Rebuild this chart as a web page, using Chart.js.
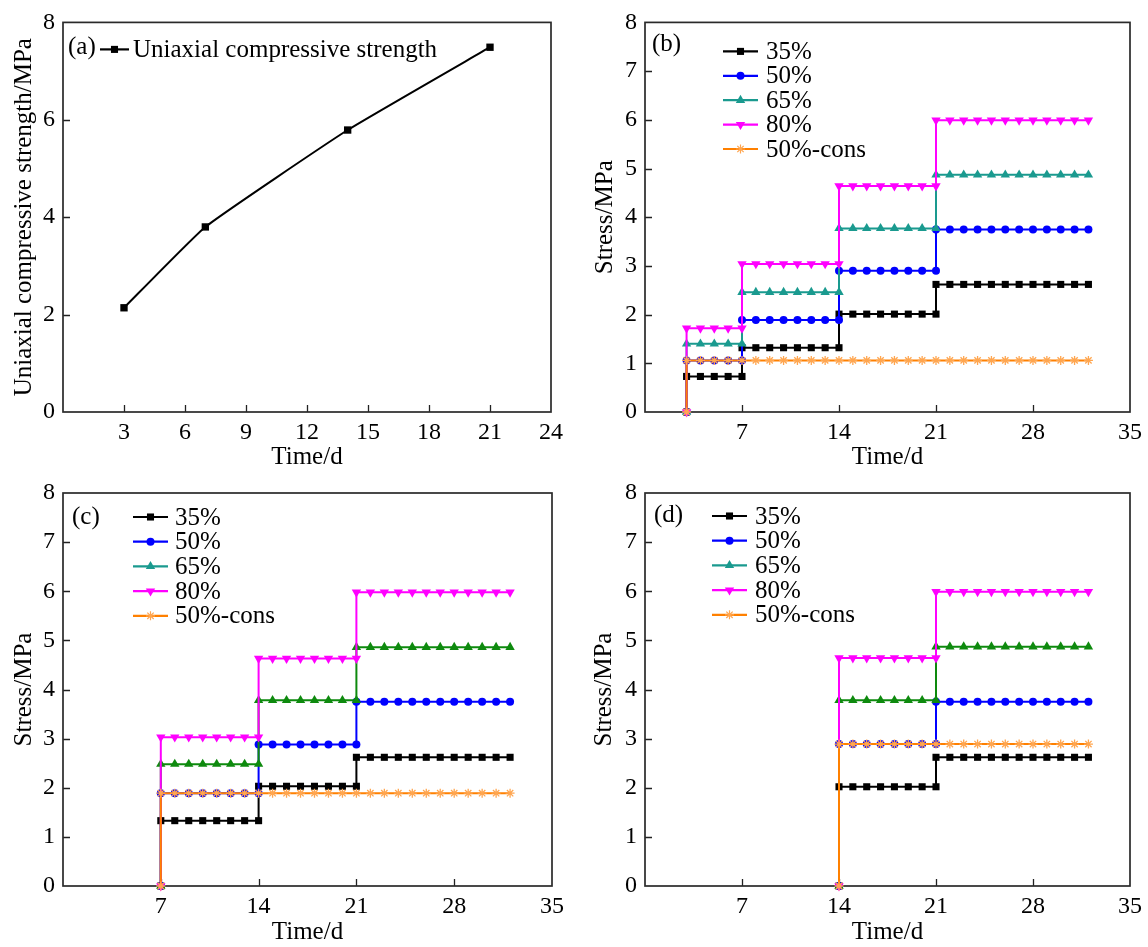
<!DOCTYPE html>
<html>
<head>
<meta charset="utf-8">
<script src="https://cdn.jsdelivr.net/npm/chart.js@4.4.1/dist/chart.umd.min.js"></script>
<style>
html,body{margin:0;padding:0;background:#fff;}
#wrap{position:relative;width:1148px;height:947px;overflow:hidden;background:#fff;}
canvas{position:absolute;}
</style>
</head>
<body>
<div id="wrap">
<canvas id="ca" width="574" height="470" style="left:0px;top:0px;width:574px;height:470px"></canvas>
<canvas id="cb" width="574" height="470" style="left:574px;top:0px;width:574px;height:470px"></canvas>
<canvas id="cc" width="574" height="477" style="left:0px;top:470px;width:574px;height:477px"></canvas>
<canvas id="cd" width="574" height="477" style="left:574px;top:470px;width:574px;height:477px"></canvas>
</div>
<script>
// ---------------- DATA ----------------
// Panel (a): uniaxial compressive strength vs curing time
const ucsDays = [3, 7, 14, 21];
const ucsStrength = [2.14, 3.80, 5.79, 7.49];

// Panels (b)-(d): stepped loading, markers every day up to lastDay
const seriesNames = ['35%', '50%', '65%', '80%', '50%-cons'];
const lastDay = 32;

// (b) loading starts at day 3, steps at 7, 14, 21
const stageDaysB = [3, 7, 14, 21];
const stressB35 = [0.73, 1.32, 2.01, 2.62];
const stressB50 = [1.06, 1.89, 2.90, 3.75];
const stressB65 = [1.40, 2.46, 3.77, 4.87];
const stressB80 = [1.72, 3.04, 4.64, 5.99];
const stressBCons = [1.06];

// (c) loading starts at day 7, steps at 14, 21
const stageDaysC = [7, 14, 21];
const stressC35 = [1.33, 2.03, 2.62];
const stressC50 = [1.89, 2.88, 3.75];
const stressC65 = [2.48, 3.78, 4.86];
const stressC80 = [3.03, 4.63, 5.98];
const stressCCons = [1.89];

// (d) loading starts at day 14, step at 21
const stageDaysD = [14, 21];
const stressD35 = [2.02, 2.62];
const stressD50 = [2.89, 3.75];
const stressD65 = [3.78, 4.87];
const stressD80 = [4.64, 5.99];
const stressDCons = [2.89];

// tick values
const ticksA_x = [3, 6, 9, 12, 15, 18, 21, 24];
const ticksStress_x = [7, 14, 21, 28, 35];

// ---------------- HELPERS ----------------
const FONT = "'Liberation Serif','Times New Roman',serif";

// expand stage levels to one marker per day
function stepPoints(starts, levels, end) {
  const pts = [{x: starts[0], y: 0}];
  levels.forEach((v, i) => {
    const from = starts[i];
    const to = i + 1 < starts.length ? starts[i + 1] : end;
    for (let d = from; d <= to; d++) pts.push({x: d, y: v});
  });
  return pts;
}

const STYLE = {
  '35%':      {color: '#000000', point: 'rect',     r: 5.0, rot: 0,   pcolor: '#000000'},
  '50%':      {color: '#0000ff', point: 'circle',   r: 4.0, rot: 0,   pcolor: '#0000ff'},
  '65%':      {color: '#1a9a8f', point: 'triangle', r: 5.4, rot: 0,   pcolor: '#1a9a8f'},
  '80%':      {color: '#ff00ff', point: 'triangle', r: 5.4, rot: 180, pcolor: '#ff00ff'},
  '50%-cons': {color: '#ff8000', point: 'star',     r: 4.5, rot: 0,   pcolor: '#ffa650'}
};
const GREEN65 = '#0e8a0e';

function drawMarker(ctx, style, x, y, r, color, rot) {
  ctx.save();
  ctx.translate(x, y);
  if (rot) ctx.rotate(rot * Math.PI / 180);
  ctx.fillStyle = color; ctx.strokeStyle = color; ctx.lineWidth = 1.2;
  ctx.beginPath();
  if (style === 'rect') {
    const s = r * Math.SQRT1_2; ctx.rect(-s, -s, 2 * s, 2 * s); ctx.fill();
  } else if (style === 'circle') {
    ctx.arc(0, 0, r, 0, Math.PI * 2); ctx.fill();
  } else if (style === 'triangle') {
    for (let k = 0; k < 3; k++) {
      const a = k * 2 * Math.PI / 3;
      if (k === 0) ctx.moveTo(Math.sin(a) * r, -Math.cos(a) * r); else ctx.lineTo(Math.sin(a) * r, -Math.cos(a) * r);
    }
    ctx.closePath(); ctx.fill();
  } else if (style === 'star') {
    for (let k = 0; k < 4; k++) {
      const a = k * Math.PI / 4;
      ctx.moveTo(Math.cos(a) * r, Math.sin(a) * r); ctx.lineTo(-Math.cos(a) * r, -Math.sin(a) * r);
    }
    ctx.stroke();
  }
  ctx.restore();
}

// legend / panel label definitions (positions relative to chart area)
const DECOR = {
  ca: {tag: '(a)', tagX: 5, tagY: 25, lineX0: 37, lineX1: 66, textX: 70, rowY0: 27, rowDY: 24,
       items: [{label: 'Uniaxial compressive strength', color: '#000', point: 'rect', r: 5.0, rot: 0, pcolor: '#000'}]},
  cb: {tag: '(b)', tagX: 7, tagY: 22, lineX0: 78, lineX1: 113, textX: 121, rowY0: 29, rowDY: 24.4},
  cc: {tag: '(c)', tagX: 9, tagY: 24, lineX0: 70, lineX1: 105, textX: 112, rowY0: 24, rowDY: 24.7},
  cd: {tag: '(d)', tagX: 9, tagY: 22, lineX0: 67, lineX1: 102, textX: 110, rowY0: 23, rowDY: 24.7}
};
['cb', 'cc', 'cd'].forEach(k => {
  DECOR[k].items = seriesNames.map(n => Object.assign({label: n}, STYLE[n]));
});

const decorPlugin = {
  id: 'panelDecor',
  beforeDatasetsDraw(chart) {
    const {ctx, chartArea: a, scales} = chart;
    ctx.save();
    ctx.strokeStyle = '#222';
    ctx.lineWidth = 1.3;
    ctx.beginPath();
    const xs = scales.x, ys = scales.y;
    xs.ticks.forEach(t => {
      if (t.value > xs.min && t.value < xs.max) {
        const px = Math.round(xs.getPixelForValue(t.value)) + 0.5;
        ctx.moveTo(px, a.bottom); ctx.lineTo(px, a.bottom - 7);
      }
    });
    ys.ticks.forEach(t => {
      if (t.value > ys.min && t.value < ys.max) {
        const py = Math.round(ys.getPixelForValue(t.value)) + 0.5;
        ctx.moveTo(a.left, py); ctx.lineTo(a.left + 7, py);
      }
    });
    ctx.stroke();
    ctx.lineWidth = 1.7;
    ctx.strokeStyle = '#2a2a2a';
    ctx.strokeRect(a.left, a.top, a.right - a.left, a.bottom - a.top);
    ctx.restore();
  },
  afterDraw(chart) {
    const d = DECOR[chart.canvas.id];
    if (!d) return;
    const {ctx, chartArea: a} = chart;
    ctx.save();
    ctx.font = '25px ' + FONT;
    ctx.fillStyle = '#000';
    ctx.textBaseline = 'middle';
    ctx.textAlign = 'left';
    ctx.fillText(d.tag, a.left + d.tagX, a.top + d.tagY);
    d.items.forEach((it, i) => {
      const y = a.top + d.rowY0 + i * d.rowDY;
      ctx.strokeStyle = it.color;
      ctx.lineWidth = 2.2;
      ctx.beginPath();
      ctx.moveTo(a.left + d.lineX0, y); ctx.lineTo(a.left + d.lineX1, y);
      ctx.stroke();
      drawMarker(ctx, it.point, a.left + (d.lineX0 + d.lineX1) / 2, y, it.r, it.pcolor, it.rot);
      ctx.fillStyle = '#000';
      ctx.fillText(it.label, a.left + d.textX, y + 1);
    });
    ctx.restore();
  }
};
Chart.register(decorPlugin);

function baseOptions(g) {
  return {
    responsive: false, animation: false, devicePixelRatio: 1,
    layout: {padding: {left: 0, top: g.top, right: g.right, bottom: 0}},
    plugins: {legend: {display: false}, tooltip: {enabled: false}},
    scales: {
      x: {
        type: 'linear', position: 'bottom', min: g.xmin, max: g.xmax,
        afterFit: s => { s.height = g.xH; },
        afterBuildTicks: s => { s.ticks = [0].concat(g.xticks).map(v => ({value: v})); },
        ticks: {autoSkip: false, maxRotation: 0, minRotation: 0, padding: 6, color: '#000',
                font: {family: FONT, size: 24},
                callback: v => (v === 0 ? '' : String(v))},
        grid: {display: false, drawTicks: false},
        border: {display: false},
        title: {display: true, text: 'Time/d', color: '#000',
                font: {family: FONT, size: 25, lineHeight: 1}, padding: {top: 0, bottom: g.xTitlePad}}
      },
      y: {
        type: 'linear', position: 'left', min: 0, max: 8,
        afterFit: s => { s.width = g.yW; },
        ticks: {stepSize: g.ystep, padding: 8, color: '#000', font: {family: FONT, size: 24}},
        grid: {display: false, drawTicks: false},
        border: {display: false},
        title: {display: true, text: g.yTitle, color: '#000',
                font: {family: FONT, size: 25, lineHeight: 1}, padding: {top: g.yTitlePad, bottom: 0}}
      }
    }
  };
}

function stressDatasets(starts, s35, s50, s65, s80, sCons, color65) {
  const lv = {'35%': s35, '50%': s50, '65%': s65, '80%': s80};
  const order = {'35%': 5, '50%': 4, '65%': 3, '80%': 2, '50%-cons': 1};
  return seriesNames.map(n => {
    const st = STYLE[n];
    const isCons = n === '50%-cons';
    const col = (n === '65%' && color65) ? color65 : st.color;
    const pcol = (n === '65%' && color65) ? color65 : st.pcolor;
    return {
      label: n,
      data: isCons ? stepPoints([starts[0]], sCons, lastDay) : stepPoints(starts, lv[n], lastDay),
      borderColor: col, backgroundColor: col, borderWidth: 2,
      pointStyle: st.point, pointRadius: st.r, pointRotation: st.rot,
      pointBackgroundColor: pcol, pointBorderColor: pcol,
      pointBorderWidth: isCons ? 1.3 : 0,
      tension: 0, clip: false, order: order[n]
    };
  });
}

// ---------------- CHARTS ----------------
new Chart(document.getElementById('ca'), {
  type: 'line',
  data: {datasets: [{
    label: 'Uniaxial compressive strength',
    data: ucsDays.map((d, i) => ({x: d, y: ucsStrength[i]})),
    borderColor: '#000', backgroundColor: '#000', borderWidth: 2,
    pointStyle: 'rect', pointRadius: 5.2, pointBackgroundColor: '#000', pointBorderColor: '#000',
    pointBorderWidth: 0, tension: 0.12, clip: false
  }]},
  options: baseOptions({top: 18, right: 23, xH: 58, yW: 63, xmin: 0, xmax: 24, xticks: ticksA_x, ystep: 2,
                        yTitle: 'Uniaxial compressive strength/MPa', yTitlePad: 12, xTitlePad: 0})
});

new Chart(document.getElementById('cb'), {
  type: 'line',
  data: {datasets: stressDatasets(stageDaysB, stressB35, stressB50, stressB65, stressB80, stressBCons, null)},
  options: baseOptions({top: 18, right: 15, xH: 58, yW: 71, xmin: 0, xmax: 35, xticks: ticksStress_x, ystep: 1,
                        yTitle: 'Stress/MPa', yTitlePad: 19, xTitlePad: 0})
});

new Chart(document.getElementById('cc'), {
  type: 'line',
  data: {datasets: stressDatasets(stageDaysC, stressC35, stressC50, stressC65, stressC80, stressCCons, GREEN65)},
  options: baseOptions({top: 23, right: 22, xH: 61, yW: 63, xmin: 0, xmax: 35, xticks: ticksStress_x, ystep: 1,
                        yTitle: 'Stress/MPa', yTitlePad: 12, xTitlePad: 2})
});

new Chart(document.getElementById('cd'), {
  type: 'line',
  data: {datasets: stressDatasets(stageDaysD, stressD35, stressD50, stressD65, stressD80, stressDCons, GREEN65)},
  options: baseOptions({top: 23, right: 15, xH: 61, yW: 71, xmin: 0, xmax: 35, xticks: ticksStress_x, ystep: 1,
                        yTitle: 'Stress/MPa', yTitlePad: 18, xTitlePad: 2})
});
</script>
</body>
</html>
